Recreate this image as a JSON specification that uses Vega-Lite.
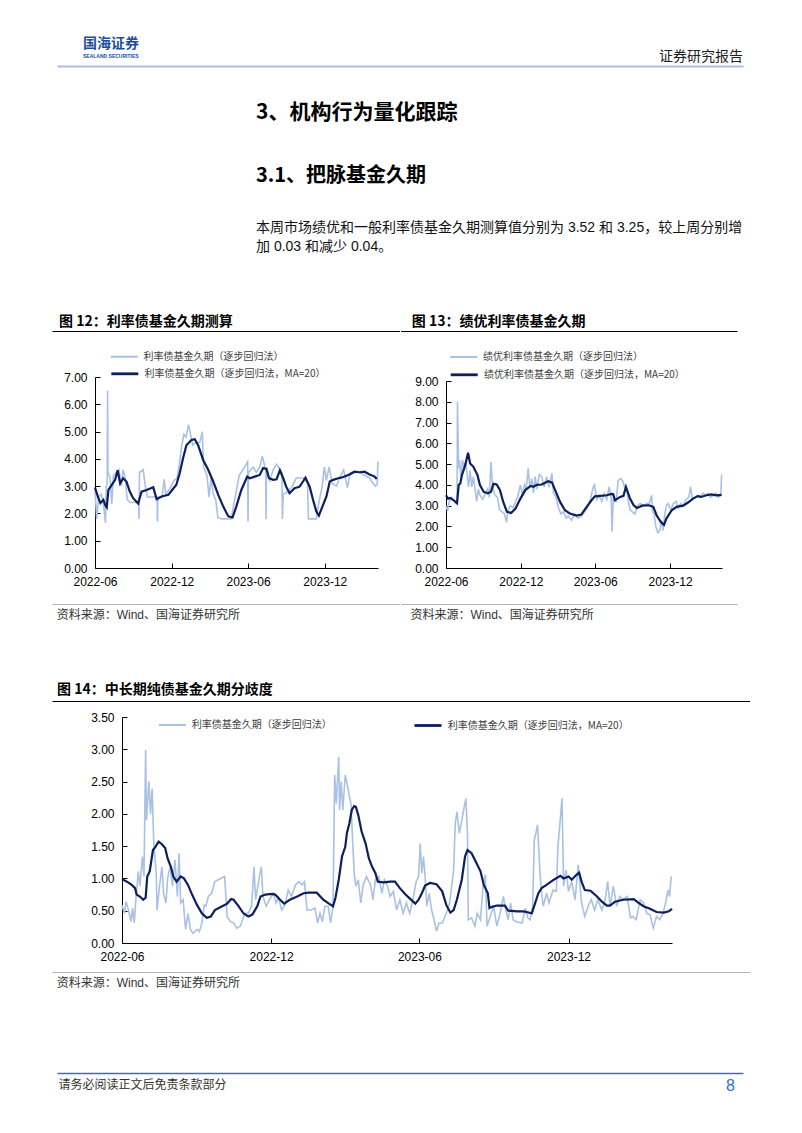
{
"$schema": "https://vega.github.io/schema/vega-lite/v6.json",
"padding": {"left": 52, "top": 0, "right": 0, "bottom": 0},
"background": "white",
"data": {"values": []},
"datasets": {
"c12a": [{"d":"2022-06-01","v":2.9},{"d":"2022-06-05","v":1.8},{"d":"2022-06-10","v":2.6},{"d":"2022-06-16","v":2.7},{"d":"2022-06-21","v":2.4},{"d":"2022-06-26","v":1.65},{"d":"2022-06-28","v":3.0},{"d":"2022-06-30","v":3.1},{"d":"2022-07-01","v":6.5},{"d":"2022-07-02","v":3.5},{"d":"2022-07-07","v":3.3},{"d":"2022-07-11","v":2.35},{"d":"2022-07-15","v":3.4},{"d":"2022-07-22","v":3.5},{"d":"2022-07-28","v":3.6},{"d":"2022-08-03","v":3.0},{"d":"2022-08-07","v":3.6},{"d":"2022-08-12","v":3.3},{"d":"2022-08-17","v":2.5},{"d":"2022-08-25","v":2.4},{"d":"2022-09-05","v":2.4},{"d":"2022-09-13","v":2.4},{"d":"2022-09-14","v":1.8},{"d":"2022-09-15","v":3.5},{"d":"2022-09-24","v":3.6},{"d":"2022-09-29","v":3.0},{"d":"2022-10-04","v":2.6},{"d":"2022-10-15","v":2.6},{"d":"2022-10-27","v":2.6},{"d":"2022-10-28","v":1.7},{"d":"2022-10-29","v":2.6},{"d":"2022-11-08","v":2.6},{"d":"2022-11-13","v":3.25},{"d":"2022-11-17","v":2.7},{"d":"2022-11-26","v":2.9},{"d":"2022-12-06","v":3.2},{"d":"2022-12-14","v":3.3},{"d":"2022-12-19","v":3.8},{"d":"2022-12-25","v":4.5},{"d":"2022-12-30","v":4.9},{"d":"2023-01-04","v":4.8},{"d":"2023-01-10","v":5.25},{"d":"2023-01-15","v":4.9},{"d":"2023-01-20","v":4.5},{"d":"2023-01-28","v":4.6},{"d":"2023-02-06","v":4.6},{"d":"2023-02-12","v":5.0},{"d":"2023-02-15","v":3.7},{"d":"2023-02-23","v":3.4},{"d":"2023-02-28","v":2.6},{"d":"2023-03-05","v":3.3},{"d":"2023-03-10","v":2.7},{"d":"2023-03-16","v":2.5},{"d":"2023-03-21","v":1.85},{"d":"2023-03-30","v":1.8},{"d":"2023-04-10","v":1.8},{"d":"2023-04-22","v":1.8},{"d":"2023-04-30","v":2.5},{"d":"2023-05-11","v":3.4},{"d":"2023-05-20","v":3.6},{"d":"2023-05-31","v":3.9},{"d":"2023-06-01","v":1.7},{"d":"2023-06-02","v":3.5},{"d":"2023-06-13","v":3.7},{"d":"2023-06-21","v":3.5},{"d":"2023-06-29","v":3.7},{"d":"2023-07-05","v":4.1},{"d":"2023-07-13","v":3.6},{"d":"2023-07-14","v":1.8},{"d":"2023-07-15","v":3.7},{"d":"2023-07-23","v":3.2},{"d":"2023-07-31","v":3.6},{"d":"2023-08-08","v":3.8},{"d":"2023-08-21","v":3.5},{"d":"2023-08-22","v":1.8},{"d":"2023-08-24","v":2.7},{"d":"2023-09-04","v":2.8},{"d":"2023-09-15","v":3.0},{"d":"2023-09-24","v":3.3},{"d":"2023-10-04","v":3.3},{"d":"2023-10-12","v":3.3},{"d":"2023-10-21","v":3.1},{"d":"2023-10-23","v":1.8},{"d":"2023-11-01","v":1.8},{"d":"2023-11-11","v":1.8},{"d":"2023-11-17","v":2.4},{"d":"2023-11-25","v":3.0},{"d":"2023-11-30","v":3.7},{"d":"2023-12-05","v":3.2},{"d":"2023-12-11","v":3.7},{"d":"2023-12-19","v":3.1},{"d":"2023-12-29","v":3.0},{"d":"2024-01-05","v":3.3},{"d":"2024-01-15","v":3.6},{"d":"2024-01-24","v":2.95},{"d":"2024-01-31","v":3.5},{"d":"2024-02-10","v":3.5},{"d":"2024-02-22","v":3.5},{"d":"2024-03-05","v":3.4},{"d":"2024-03-17","v":3.3},{"d":"2024-03-25","v":3.1},{"d":"2024-03-31","v":3.0},{"d":"2024-04-04","v":3.05},{"d":"2024-04-06","v":3.9}],
"c12m": [{"d":"2022-06-01","v":2.95},{"d":"2022-06-09","v":2.56},{"d":"2022-06-14","v":2.38},{"d":"2022-06-21","v":2.5},{"d":"2022-06-26","v":2.28},{"d":"2022-06-29","v":2.22},{"d":"2022-07-03","v":2.86},{"d":"2022-07-11","v":3.05},{"d":"2022-07-19","v":3.23},{"d":"2022-07-25","v":3.58},{"d":"2022-07-31","v":3.1},{"d":"2022-08-07","v":3.29},{"d":"2022-08-15","v":3.17},{"d":"2022-08-23","v":2.8},{"d":"2022-08-31","v":2.56},{"d":"2022-09-12","v":2.36},{"d":"2022-09-20","v":2.8},{"d":"2022-10-02","v":2.86},{"d":"2022-10-18","v":2.96},{"d":"2022-10-26","v":2.52},{"d":"2022-11-07","v":2.62},{"d":"2022-11-23","v":2.68},{"d":"2022-12-02","v":2.86},{"d":"2022-12-12","v":3.05},{"d":"2022-12-20","v":3.47},{"d":"2022-12-28","v":4.02},{"d":"2023-01-05","v":4.5},{"d":"2023-01-17","v":4.69},{"d":"2023-01-25","v":4.72},{"d":"2023-02-02","v":4.5},{"d":"2023-02-14","v":3.96},{"d":"2023-02-26","v":3.6},{"d":"2023-03-10","v":3.17},{"d":"2023-03-22","v":2.68},{"d":"2023-04-03","v":2.25},{"d":"2023-04-15","v":1.89},{"d":"2023-04-25","v":1.85},{"d":"2023-05-04","v":2.25},{"d":"2023-05-16","v":2.86},{"d":"2023-05-30","v":3.35},{"d":"2023-06-05","v":3.29},{"d":"2023-06-17","v":3.35},{"d":"2023-06-29","v":3.41},{"d":"2023-07-07","v":3.66},{"d":"2023-07-15","v":3.63},{"d":"2023-07-21","v":3.29},{"d":"2023-07-31","v":3.23},{"d":"2023-08-08","v":3.25},{"d":"2023-08-16","v":3.58},{"d":"2023-08-24","v":3.29},{"d":"2023-08-31","v":2.98},{"d":"2023-09-08","v":2.74},{"d":"2023-09-20","v":2.92},{"d":"2023-10-02","v":2.98},{"d":"2023-10-10","v":3.17},{"d":"2023-10-16","v":3.31},{"d":"2023-10-26","v":2.98},{"d":"2023-11-03","v":2.5},{"d":"2023-11-11","v":2.07},{"d":"2023-11-17","v":1.92},{"d":"2023-11-27","v":2.31},{"d":"2023-12-05","v":2.62},{"d":"2023-12-13","v":3.17},{"d":"2023-12-21","v":3.23},{"d":"2024-01-02","v":3.29},{"d":"2024-01-09","v":3.31},{"d":"2024-01-17","v":3.35},{"d":"2024-01-29","v":3.43},{"d":"2024-02-10","v":3.53},{"d":"2024-02-22","v":3.51},{"d":"2024-03-05","v":3.53},{"d":"2024-03-17","v":3.43},{"d":"2024-03-29","v":3.35},{"d":"2024-04-03","v":3.26}],
"c13a": [{"d":"2022-06-01","v":3.0},{"d":"2022-06-05","v":2.75},{"d":"2022-06-10","v":3.3},{"d":"2022-06-15","v":3.4},{"d":"2022-06-21","v":3.2},{"d":"2022-06-26","v":3.1},{"d":"2022-06-28","v":3.1},{"d":"2022-06-29","v":8.0},{"d":"2022-07-02","v":4.8},{"d":"2022-07-04","v":5.2},{"d":"2022-07-08","v":4.2},{"d":"2022-07-11","v":5.2},{"d":"2022-07-15","v":4.9},{"d":"2022-07-19","v":5.1},{"d":"2022-07-22","v":4.6},{"d":"2022-07-26","v":3.9},{"d":"2022-07-30","v":4.7},{"d":"2022-08-03","v":3.9},{"d":"2022-08-07","v":4.4},{"d":"2022-08-11","v":3.8},{"d":"2022-08-15","v":3.2},{"d":"2022-08-19","v":3.8},{"d":"2022-08-23","v":3.5},{"d":"2022-08-30","v":3.3},{"d":"2022-09-05","v":3.6},{"d":"2022-09-11","v":3.8},{"d":"2022-09-15","v":3.4},{"d":"2022-09-19","v":5.1},{"d":"2022-09-23","v":3.9},{"d":"2022-09-29","v":3.5},{"d":"2022-10-05","v":3.4},{"d":"2022-10-10","v":2.8},{"d":"2022-10-16","v":2.7},{"d":"2022-10-22","v":2.6},{"d":"2022-10-27","v":2.2},{"d":"2022-10-30","v":2.7},{"d":"2022-11-05","v":3.0},{"d":"2022-11-12","v":2.9},{"d":"2022-11-18","v":3.2},{"d":"2022-11-23","v":3.4},{"d":"2022-11-30","v":4.0},{"d":"2022-12-05","v":3.5},{"d":"2022-12-10","v":4.0},{"d":"2022-12-14","v":3.8},{"d":"2022-12-19","v":4.8},{"d":"2022-12-23","v":3.9},{"d":"2022-12-28","v":4.3},{"d":"2023-01-01","v":3.6},{"d":"2023-01-05","v":4.4},{"d":"2023-01-09","v":3.8},{"d":"2023-01-15","v":4.5},{"d":"2023-01-21","v":4.4},{"d":"2023-01-27","v":3.9},{"d":"2023-02-02","v":4.4},{"d":"2023-02-08","v":3.9},{"d":"2023-02-15","v":4.55},{"d":"2023-02-19","v":3.6},{"d":"2023-02-25","v":3.4},{"d":"2023-03-03","v":2.9},{"d":"2023-03-09","v":2.6},{"d":"2023-03-15","v":2.7},{"d":"2023-03-22","v":2.4},{"d":"2023-03-27","v":2.5},{"d":"2023-04-04","v":2.3},{"d":"2023-04-12","v":2.6},{"d":"2023-04-20","v":2.4},{"d":"2023-04-28","v":2.5},{"d":"2023-05-06","v":2.7},{"d":"2023-05-15","v":3.0},{"d":"2023-05-20","v":3.3},{"d":"2023-05-27","v":3.9},{"d":"2023-05-30","v":4.0},{"d":"2023-06-05","v":3.3},{"d":"2023-06-10","v":3.5},{"d":"2023-06-17","v":3.2},{"d":"2023-06-23","v":3.6},{"d":"2023-06-29","v":3.3},{"d":"2023-07-05","v":3.9},{"d":"2023-07-10","v":3.4},{"d":"2023-07-12","v":1.75},{"d":"2023-07-15","v":3.3},{"d":"2023-07-22","v":3.2},{"d":"2023-07-27","v":4.2},{"d":"2023-08-02","v":4.3},{"d":"2023-08-07","v":4.2},{"d":"2023-08-13","v":3.8},{"d":"2023-08-17","v":3.8},{"d":"2023-08-21","v":3.2},{"d":"2023-08-25","v":2.8},{"d":"2023-08-31","v":2.7},{"d":"2023-09-06","v":2.6},{"d":"2023-09-12","v":3.0},{"d":"2023-09-19","v":3.1},{"d":"2023-09-27","v":3.0},{"d":"2023-10-05","v":3.1},{"d":"2023-10-11","v":3.1},{"d":"2023-10-17","v":3.5},{"d":"2023-10-19","v":2.7},{"d":"2023-10-23","v":2.6},{"d":"2023-10-27","v":2.0},{"d":"2023-11-01","v":1.7},{"d":"2023-11-06","v":1.8},{"d":"2023-11-10","v":2.3},{"d":"2023-11-14","v":1.8},{"d":"2023-11-18","v":2.6},{"d":"2023-11-22","v":3.0},{"d":"2023-11-26","v":3.1},{"d":"2023-12-03","v":2.8},{"d":"2023-12-09","v":3.1},{"d":"2023-12-16","v":3.2},{"d":"2023-12-21","v":2.9},{"d":"2023-12-27","v":3.1},{"d":"2024-01-02","v":3.0},{"d":"2024-01-09","v":3.3},{"d":"2024-01-16","v":3.4},{"d":"2024-01-20","v":3.9},{"d":"2024-01-25","v":3.3},{"d":"2024-01-31","v":3.4},{"d":"2024-02-06","v":3.5},{"d":"2024-02-12","v":3.4},{"d":"2024-02-20","v":3.6},{"d":"2024-02-27","v":3.5},{"d":"2024-03-03","v":3.6},{"d":"2024-03-09","v":3.4},{"d":"2024-03-16","v":3.5},{"d":"2024-03-22","v":3.6},{"d":"2024-03-28","v":3.4},{"d":"2024-04-03","v":3.5},{"d":"2024-04-05","v":4.5}],
"c13m": [{"d":"2022-06-01","v":3.5},{"d":"2022-06-06","v":3.34},{"d":"2022-06-11","v":3.37},{"d":"2022-06-20","v":3.26},{"d":"2022-06-28","v":3.12},{"d":"2022-07-02","v":3.99},{"d":"2022-07-06","v":4.07},{"d":"2022-07-10","v":4.47},{"d":"2022-07-18","v":4.95},{"d":"2022-07-25","v":5.55},{"d":"2022-07-30","v":5.03},{"d":"2022-08-07","v":4.87},{"d":"2022-08-17","v":4.47},{"d":"2022-08-23","v":3.99},{"d":"2022-09-01","v":3.67},{"d":"2022-09-11","v":3.59},{"d":"2022-09-19","v":3.67},{"d":"2022-09-25","v":4.05},{"d":"2022-10-03","v":4.02},{"d":"2022-10-11","v":3.75},{"d":"2022-10-19","v":3.18},{"d":"2022-10-28","v":2.7},{"d":"2022-11-07","v":2.65},{"d":"2022-11-18","v":2.86},{"d":"2022-11-30","v":3.34},{"d":"2022-12-12","v":3.75},{"d":"2022-12-25","v":3.95},{"d":"2023-01-01","v":3.91},{"d":"2023-01-09","v":4.0},{"d":"2023-01-21","v":4.02},{"d":"2023-02-06","v":4.18},{"d":"2023-02-15","v":4.12},{"d":"2023-02-23","v":3.75},{"d":"2023-03-07","v":3.18},{"d":"2023-03-19","v":2.78},{"d":"2023-03-31","v":2.62},{"d":"2023-04-16","v":2.52},{"d":"2023-04-28","v":2.57},{"d":"2023-05-11","v":2.94},{"d":"2023-05-23","v":3.26},{"d":"2023-05-31","v":3.45},{"d":"2023-06-13","v":3.47},{"d":"2023-06-29","v":3.5},{"d":"2023-07-11","v":3.57},{"d":"2023-07-15","v":3.55},{"d":"2023-07-19","v":3.26},{"d":"2023-08-01","v":3.42},{"d":"2023-08-09","v":3.47},{"d":"2023-08-15","v":3.9},{"d":"2023-08-25","v":3.34},{"d":"2023-09-03","v":3.02},{"d":"2023-09-11","v":2.89},{"d":"2023-09-24","v":3.0},{"d":"2023-10-10","v":3.02},{"d":"2023-10-21","v":2.94},{"d":"2023-10-29","v":2.54},{"d":"2023-11-08","v":2.22},{"d":"2023-11-16","v":2.08},{"d":"2023-11-22","v":2.38},{"d":"2023-12-05","v":2.78},{"d":"2023-12-17","v":2.94},{"d":"2024-01-02","v":3.0},{"d":"2024-01-14","v":3.15},{"d":"2024-01-26","v":3.34},{"d":"2024-02-07","v":3.46},{"d":"2024-02-15","v":3.42},{"d":"2024-02-28","v":3.5},{"d":"2024-03-11","v":3.54},{"d":"2024-03-23","v":3.5},{"d":"2024-04-05","v":3.52}],
"c14a": [{"d":"2022-06-01","v":0.59},{"d":"2022-06-04","v":0.46},{"d":"2022-06-06","v":0.64},{"d":"2022-06-09","v":0.51},{"d":"2022-06-12","v":0.33},{"d":"2022-06-14","v":0.54},{"d":"2022-06-16","v":0.31},{"d":"2022-06-18","v":0.67},{"d":"2022-06-21","v":1.11},{"d":"2022-06-23","v":0.88},{"d":"2022-06-26","v":1.34},{"d":"2022-06-28","v":1.03},{"d":"2022-06-30","v":2.99},{"d":"2022-07-01","v":1.9},{"d":"2022-07-04","v":2.5},{"d":"2022-07-06","v":2.0},{"d":"2022-07-08","v":2.39},{"d":"2022-07-10","v":1.54},{"d":"2022-07-13","v":1.08},{"d":"2022-07-14","v":0.51},{"d":"2022-07-17","v":0.88},{"d":"2022-07-20","v":1.18},{"d":"2022-07-22","v":0.77},{"d":"2022-07-25","v":0.62},{"d":"2022-07-27","v":1.0},{"d":"2022-07-30","v":1.18},{"d":"2022-08-02","v":0.88},{"d":"2022-08-05","v":1.29},{"d":"2022-08-08","v":0.72},{"d":"2022-08-10","v":1.39},{"d":"2022-08-12","v":0.62},{"d":"2022-08-15","v":0.67},{"d":"2022-08-18","v":0.21},{"d":"2022-08-21","v":0.46},{"d":"2022-08-24","v":0.21},{"d":"2022-08-27","v":0.15},{"d":"2022-09-01","v":0.21},{"d":"2022-09-04","v":0.18},{"d":"2022-09-07","v":0.31},{"d":"2022-09-10","v":0.59},{"d":"2022-09-12","v":0.57},{"d":"2022-09-15","v":0.72},{"d":"2022-09-19","v":0.77},{"d":"2022-09-23","v":0.95},{"d":"2022-09-30","v":1.0},{"d":"2022-10-05","v":1.03},{"d":"2022-10-08","v":0.41},{"d":"2022-10-12","v":0.33},{"d":"2022-10-16","v":0.31},{"d":"2022-10-20","v":0.23},{"d":"2022-10-24","v":0.26},{"d":"2022-10-27","v":0.36},{"d":"2022-10-30","v":0.46},{"d":"2022-11-03","v":0.46},{"d":"2022-11-07","v":0.57},{"d":"2022-11-10","v":1.18},{"d":"2022-11-12","v":0.67},{"d":"2022-11-16","v":0.98},{"d":"2022-11-19","v":1.18},{"d":"2022-11-21","v":0.72},{"d":"2022-11-25","v":0.57},{"d":"2022-11-29","v":0.67},{"d":"2022-12-04","v":0.77},{"d":"2022-12-07","v":0.62},{"d":"2022-12-10","v":0.7},{"d":"2022-12-14","v":0.51},{"d":"2022-12-18","v":0.59},{"d":"2022-12-22","v":0.82},{"d":"2022-12-26","v":0.72},{"d":"2022-12-31","v":0.9},{"d":"2023-01-04","v":0.95},{"d":"2023-01-08","v":0.9},{"d":"2023-01-11","v":0.95},{"d":"2023-01-14","v":0.51},{"d":"2023-01-19","v":0.51},{"d":"2023-01-24","v":0.54},{"d":"2023-01-27","v":0.31},{"d":"2023-01-30","v":0.46},{"d":"2023-02-02","v":0.33},{"d":"2023-02-05","v":0.57},{"d":"2023-02-09","v":0.57},{"d":"2023-02-12","v":0.31},{"d":"2023-02-15","v":0.57},{"d":"2023-02-17","v":2.6},{"d":"2023-02-19","v":2.16},{"d":"2023-02-21","v":2.65},{"d":"2023-02-22","v":2.88},{"d":"2023-02-23","v":2.06},{"d":"2023-02-25","v":2.5},{"d":"2023-02-27","v":2.06},{"d":"2023-03-02","v":2.6},{"d":"2023-03-05","v":2.42},{"d":"2023-03-07","v":2.27},{"d":"2023-03-09","v":2.16},{"d":"2023-03-11","v":1.6},{"d":"2023-03-13","v":1.08},{"d":"2023-03-15","v":0.88},{"d":"2023-03-18","v":0.98},{"d":"2023-03-21","v":0.62},{"d":"2023-03-24","v":0.9},{"d":"2023-03-28","v":1.03},{"d":"2023-04-02","v":0.9},{"d":"2023-04-05","v":0.67},{"d":"2023-04-08","v":0.98},{"d":"2023-04-12","v":1.03},{"d":"2023-04-16","v":0.77},{"d":"2023-04-19","v":0.98},{"d":"2023-04-23","v":0.88},{"d":"2023-04-26","v":0.72},{"d":"2023-04-30","v":0.8},{"d":"2023-05-04","v":0.51},{"d":"2023-05-08","v":0.67},{"d":"2023-05-12","v":0.46},{"d":"2023-05-16","v":0.62},{"d":"2023-05-20","v":0.46},{"d":"2023-05-24","v":0.67},{"d":"2023-05-28","v":0.95},{"d":"2023-05-31","v":1.03},{"d":"2023-06-02","v":1.54},{"d":"2023-06-04","v":1.08},{"d":"2023-06-06","v":1.34},{"d":"2023-06-08","v":1.03},{"d":"2023-06-10","v":0.57},{"d":"2023-06-13","v":0.77},{"d":"2023-06-16","v":0.51},{"d":"2023-06-19","v":0.36},{"d":"2023-06-22","v":0.18},{"d":"2023-06-25","v":0.31},{"d":"2023-06-29","v":0.31},{"d":"2023-07-04","v":0.46},{"d":"2023-07-08","v":0.62},{"d":"2023-07-13","v":1.13},{"d":"2023-07-15","v":1.85},{"d":"2023-07-17","v":2.03},{"d":"2023-07-20","v":1.7},{"d":"2023-07-23","v":1.9},{"d":"2023-07-26","v":2.11},{"d":"2023-07-28","v":2.24},{"d":"2023-07-30","v":1.7},{"d":"2023-07-31","v":0.36},{"d":"2023-08-04","v":0.39},{"d":"2023-08-08","v":0.26},{"d":"2023-08-11","v":0.46},{"d":"2023-08-15","v":0.36},{"d":"2023-08-18","v":0.88},{"d":"2023-08-21","v":1.06},{"d":"2023-08-23","v":0.26},{"d":"2023-08-27","v":0.41},{"d":"2023-08-31","v":0.57},{"d":"2023-09-04","v":0.26},{"d":"2023-09-08","v":0.46},{"d":"2023-09-12","v":0.72},{"d":"2023-09-15","v":0.51},{"d":"2023-09-18","v":0.36},{"d":"2023-09-21","v":0.62},{"d":"2023-09-24","v":0.36},{"d":"2023-09-28","v":0.33},{"d":"2023-10-05","v":0.31},{"d":"2023-10-09","v":0.54},{"d":"2023-10-12","v":0.39},{"d":"2023-10-15","v":0.36},{"d":"2023-10-18","v":0.57},{"d":"2023-10-20","v":1.6},{"d":"2023-10-22","v":1.7},{"d":"2023-10-24","v":1.83},{"d":"2023-10-27","v":1.08},{"d":"2023-10-29","v":0.77},{"d":"2023-10-31","v":0.57},{"d":"2023-11-04","v":0.77},{"d":"2023-11-07","v":0.62},{"d":"2023-11-12","v":0.82},{"d":"2023-11-16","v":0.8},{"d":"2023-11-18","v":1.49},{"d":"2023-11-21","v":1.93},{"d":"2023-11-23","v":2.24},{"d":"2023-11-25","v":0.88},{"d":"2023-11-28","v":1.13},{"d":"2023-12-01","v":0.8},{"d":"2023-12-05","v":0.95},{"d":"2023-12-09","v":0.67},{"d":"2023-12-13","v":1.21},{"d":"2023-12-17","v":0.62},{"d":"2023-12-21","v":0.41},{"d":"2023-12-25","v":0.57},{"d":"2023-12-29","v":0.67},{"d":"2024-01-02","v":0.51},{"d":"2024-01-06","v":0.67},{"d":"2024-01-11","v":0.51},{"d":"2024-01-15","v":0.67},{"d":"2024-01-18","v":0.95},{"d":"2024-01-21","v":0.57},{"d":"2024-01-25","v":0.88},{"d":"2024-01-29","v":0.57},{"d":"2024-02-02","v":0.72},{"d":"2024-02-06","v":0.67},{"d":"2024-02-11","v":0.72},{"d":"2024-02-15","v":0.39},{"d":"2024-02-18","v":0.41},{"d":"2024-02-22","v":0.36},{"d":"2024-02-27","v":0.67},{"d":"2024-03-02","v":0.62},{"d":"2024-03-06","v":0.46},{"d":"2024-03-10","v":0.44},{"d":"2024-03-14","v":0.23},{"d":"2024-03-18","v":0.41},{"d":"2024-03-22","v":0.36},{"d":"2024-03-26","v":0.46},{"d":"2024-03-30","v":0.67},{"d":"2024-04-01","v":0.82},{"d":"2024-04-03","v":0.72},{"d":"2024-04-05","v":1.03}],
"c14m": [{"d":"2022-06-01","v":0.99},{"d":"2022-06-07","v":0.95},{"d":"2022-06-13","v":0.9},{"d":"2022-06-17","v":0.85},{"d":"2022-06-19","v":0.75},{"d":"2022-06-23","v":0.72},{"d":"2022-06-27","v":0.67},{"d":"2022-06-30","v":0.7},{"d":"2022-07-02","v":1.03},{"d":"2022-07-05","v":1.11},{"d":"2022-07-09","v":1.44},{"d":"2022-07-12","v":1.49},{"d":"2022-07-16","v":1.57},{"d":"2022-07-20","v":1.53},{"d":"2022-07-24","v":1.47},{"d":"2022-07-27","v":1.31},{"d":"2022-07-31","v":1.18},{"d":"2022-08-03","v":1.03},{"d":"2022-08-07","v":0.95},{"d":"2022-08-12","v":1.03},{"d":"2022-08-16","v":1.0},{"d":"2022-08-21","v":0.9},{"d":"2022-08-26","v":0.75},{"d":"2022-09-01","v":0.59},{"d":"2022-09-07","v":0.46},{"d":"2022-09-13","v":0.39},{"d":"2022-09-18","v":0.41},{"d":"2022-09-23","v":0.51},{"d":"2022-10-02","v":0.57},{"d":"2022-10-08","v":0.61},{"d":"2022-10-13","v":0.68},{"d":"2022-10-16","v":0.67},{"d":"2022-10-22","v":0.57},{"d":"2022-10-28","v":0.46},{"d":"2022-11-03","v":0.41},{"d":"2022-11-08","v":0.44},{"d":"2022-11-14","v":0.57},{"d":"2022-11-18","v":0.72},{"d":"2022-11-24","v":0.75},{"d":"2022-12-02","v":0.76},{"d":"2022-12-06","v":0.75},{"d":"2022-12-12","v":0.67},{"d":"2022-12-17","v":0.61},{"d":"2022-12-24","v":0.67},{"d":"2023-01-02","v":0.72},{"d":"2023-01-10","v":0.77},{"d":"2023-01-16","v":0.78},{"d":"2023-01-26","v":0.78},{"d":"2023-02-03","v":0.67},{"d":"2023-02-10","v":0.61},{"d":"2023-02-15","v":0.57},{"d":"2023-02-18","v":0.7},{"d":"2023-02-22","v":0.98},{"d":"2023-02-26","v":1.34},{"d":"2023-03-02","v":1.49},{"d":"2023-03-04","v":1.7},{"d":"2023-03-07","v":1.85},{"d":"2023-03-10","v":2.06},{"d":"2023-03-13","v":2.12},{"d":"2023-03-15","v":2.11},{"d":"2023-03-18","v":1.98},{"d":"2023-03-22","v":1.73},{"d":"2023-03-27","v":1.54},{"d":"2023-03-31","v":1.31},{"d":"2023-04-04","v":1.18},{"d":"2023-04-08","v":1.08},{"d":"2023-04-11","v":0.95},{"d":"2023-04-18","v":0.94},{"d":"2023-04-26","v":0.95},{"d":"2023-05-02","v":0.95},{"d":"2023-05-08","v":0.85},{"d":"2023-05-15","v":0.75},{"d":"2023-05-21","v":0.68},{"d":"2023-05-27","v":0.61},{"d":"2023-05-31","v":0.67},{"d":"2023-06-04","v":0.77},{"d":"2023-06-08","v":0.89},{"d":"2023-06-14","v":0.93},{"d":"2023-06-22","v":0.91},{"d":"2023-06-29","v":0.8},{"d":"2023-07-04","v":0.59},{"d":"2023-07-09","v":0.47},{"d":"2023-07-13","v":0.51},{"d":"2023-07-17","v":0.67},{"d":"2023-07-23","v":0.98},{"d":"2023-07-27","v":1.34},{"d":"2023-07-30","v":1.44},{"d":"2023-08-04","v":1.39},{"d":"2023-08-08","v":1.29},{"d":"2023-08-15","v":1.11},{"d":"2023-08-19","v":0.9},{"d":"2023-08-24","v":0.77},{"d":"2023-08-26","v":0.54},{"d":"2023-08-29","v":0.56},{"d":"2023-09-04","v":0.58},{"d":"2023-09-14","v":0.58},{"d":"2023-09-18","v":0.5},{"d":"2023-09-29","v":0.49},{"d":"2023-10-07","v":0.49},{"d":"2023-10-17","v":0.46},{"d":"2023-10-19","v":0.54},{"d":"2023-10-25","v":0.77},{"d":"2023-10-29","v":0.85},{"d":"2023-11-04","v":0.9},{"d":"2023-11-13","v":0.98},{"d":"2023-11-21","v":1.04},{"d":"2023-11-25","v":1.0},{"d":"2023-12-01","v":1.03},{"d":"2023-12-05","v":0.98},{"d":"2023-12-11","v":1.06},{"d":"2023-12-14","v":1.09},{"d":"2023-12-17","v":0.95},{"d":"2023-12-21","v":0.82},{"d":"2023-12-28","v":0.81},{"d":"2024-01-05","v":0.72},{"d":"2024-01-11","v":0.64},{"d":"2024-01-17","v":0.58},{"d":"2024-01-21","v":0.58},{"d":"2024-01-27","v":0.64},{"d":"2024-02-06","v":0.67},{"d":"2024-02-19","v":0.68},{"d":"2024-02-25","v":0.62},{"d":"2024-03-02","v":0.57},{"d":"2024-03-10","v":0.53},{"d":"2024-03-18","v":0.48},{"d":"2024-03-27","v":0.47},{"d":"2024-04-02","v":0.49},{"d":"2024-04-06","v":0.53}]
},
"columns": 2,
"spacing": 0,
"bounds": "flush",
"align": "each",
"resolve": {"scale": {"x": "independent", "y": "independent", "color": "independent"}, "axis": {"x": "independent", "y": "independent"}, "legend": {"color": "independent"}},
"concat": [
{"width":348,"height":1,"mark":"point","title":{"text":"国海证券","subtitle":"SEALAND SECURITIES","offset":36,"dx":31,"fontSize":14,"fontWeight":"bold","color":"#1d4f9e","subtitleFont":"Liberation Sans","subtitleFontSize":5,"subtitleFontWeight":"bold","subtitleColor":"#1d4f9e","subtitlePadding":3}},
{"width":1,"height":1,"mark":"point","title":{"text":"证券研究报告","offset":49.4,"dx":343,"align":"right","fontSize":14,"color":"#222222"}},

{"width":1,"height":1,"mark":"point","title":{"text":"3、机构行为量化跟踪","offset":100.2,"dx":204,"fontSize":21,"fontWeight":"bold"}},
{"width":1,"height":1,"mark":"point","title":{"text":"3.1、把脉基金久期","offset":164,"dx":-144,"fontSize":20,"fontWeight":"bold"}},

{"width":1,"height":1,"mark":"point","title":{"text":["本周市场绩优和一般利率债基金久期测算值分别为 3.52 和 3.25，较上周分别增","加 0.03 和减少 0.04。"],"offset":218.4,"dx":204,"fontSize":14,"lineHeight":19,"font":"Liberation Sans, Noto Sans CJK SC","color":"#111111"}},
{"width":1,"height":1,"mark":"point","title":{"text":"图 12：利率债基金久期测算","offset":312.4,"dx":-341,"fontSize":14,"fontWeight":"bold"}},

{"width":1,"height":1,"mark":"point","title":{"text":"资料来源：Wind、国海证券研究所","offset":606.3,"dx":4.7,"fontSize":12,"font":"Liberation Sans, Noto Sans CJK SC","color":"#333333"}},
{"width":1,"height":1,"mark":"point","title":{"text":"图 13：绩优利率债基金久期","offset":311.4,"dx":11.7,"fontSize":14,"fontWeight":"bold"}},

{"width":1,"height":1,"mark":"point","title":{"text":"图 14：中长期纯债基金久期分歧度","offset":678,"dx":5,"fontSize":14,"fontWeight":"bold"}},
{"width":1,"height":1,"mark":"point","title":{"text":"资料来源：Wind、国海证券研究所","offset":605.3,"dx":10.5,"fontSize":12,"font":"Liberation Sans, Noto Sans CJK SC","color":"#333333"}},

{"width":1,"height":1,"mark":"point","title":{"text":"资料来源：Wind、国海证券研究所","offset":971.6,"dx":4.7,"fontSize":12,"font":"Liberation Sans, Noto Sans CJK SC","color":"#333333"}},
{"width":1,"height":1,"mark":"point","title":{"text":"请务必阅读正文后免责条款部分","offset":1073.6,"dx":-341.6,"fontSize":12,"color":"#333333"}},

{"width":1,"height":60,"mark":"point","title":{"text":"8","offset":1011.8,"dx":674,"fontSize":16,"font":"Liberation Sans","color":"#2f6fcf"}},
{"width":1,"height":1,"mark":"point"},

{"width":348,"height":265,"mark":"point","encoding":{"x":{"datum":0,"type":"quantitative","scale":{"domain":[0,1],"range":[5,691]},"axis":{"orient":"top","title":null,"ticks":false,"labels":false,"grid":false,"domainColor":"#a9bfe8","domainWidth":2}}}},
{"width":1,"height":1,"mark":"point"},

{"width":348,"height":46,"mark":"point","encoding":{"x":{"datum":0,"type":"quantitative","scale":{"domain":[0,1],"range":[0,347.5]},"axis":{"orient":"top","title":null,"ticks":false,"labels":false,"grid":false,"domainColor":"#000000","domainWidth":1}}}},
{"width":337,"height":46,"mark":"point","encoding":{"x":{"datum":0,"type":"quantitative","scale":{"domain":[0,1],"range":[0.5,337]},"axis":{"orient":"top","title":null,"ticks":false,"labels":false,"grid":false,"domainColor":"#000000","domainWidth":1}}}},

{"width":348,"height":191,
 "resolve":{"scale":{"color":"independent"},"legend":{"color":"independent"}},
 "layer":[
  {"data":{"name":"c12a"},"mark":{"type":"line","strokeWidth":1.6},"encoding":{
    "x":{"field":"d","type":"temporal","scale":{"type":"utc","domain":[{"year":2022,"month":6,"date":1,"utc":true},{"year":2024,"month":4,"date":6,"utc":true}],"range":[43,326]},"axis":{"orient":"bottom","title":null,"format":"%Y-%m","labelOverlap":false,"labelFlush":false,"values":[{"year":2022,"month":6,"date":1,"utc":true},{"year":2022,"month":12,"date":1,"utc":true},{"year":2023,"month":6,"date":1,"utc":true},{"year":2023,"month":12,"date":1,"utc":true}]}},
    "y":{"field":"v","type":"quantitative","scale":{"domain":[0,7],"nice":false,"range":[191,0]},"axis":{"orient":"left","offset":-43,"title":null,"format":".2f","tickCount":8,"labelOverlap":false,"values":[0,1,2,3,4,5,6,7]}},
    "color":{"datum":"利率债基金久期（逐步回归法）","scale":{"range":["#a9c1e4"]},"legend":{"title":null,"orient":"none","legendX":66.3,"legendY":-26.3,"symbolType":"M-2.7,0H2.7","symbolStrokeWidth":2}}}},
  {"data":{"name":"c12m"},"mark":{"type":"line","strokeWidth":2.2},"encoding":{
    "x":{"field":"d","type":"temporal","scale":{"type":"utc","domain":[{"year":2022,"month":6,"date":1,"utc":true},{"year":2024,"month":4,"date":6,"utc":true}],"range":[43,326]},"axis":{"orient":"bottom","title":null,"format":"%Y-%m","labelOverlap":false,"labelFlush":false,"values":[{"year":2022,"month":6,"date":1,"utc":true},{"year":2022,"month":12,"date":1,"utc":true},{"year":2023,"month":6,"date":1,"utc":true},{"year":2023,"month":12,"date":1,"utc":true}]}},
    "y":{"field":"v","type":"quantitative","scale":{"domain":[0,7],"nice":false,"range":[191,0]},"axis":{"orient":"left","offset":-43,"title":null,"format":".2f","tickCount":8,"labelOverlap":false,"values":[0,1,2,3,4,5,6,7]}},
    "color":{"datum":"利率债基金久期（逐步回归法，MA=20）","scale":{"range":["#0d1f5c"]},"legend":{"title":null,"orient":"none","legendX":66.3,"legendY":-9.7,"symbolType":"M-2.7,0H2.7","symbolStrokeWidth":2.8}}}}
 ]},
{"width":337,"height":191,
 "resolve":{"scale":{"color":"independent"},"legend":{"color":"independent"}},
 "layer":[
  {"data":{"name":"c13a"},"mark":{"type":"line","strokeWidth":1.6},"encoding":{
    "x":{"field":"d","type":"temporal","scale":{"type":"utc","domain":[{"year":2022,"month":6,"date":1,"utc":true},{"year":2024,"month":4,"date":6,"utc":true}],"range":[46,322]},"axis":{"orient":"bottom","title":null,"format":"%Y-%m","labelOverlap":false,"labelFlush":false,"values":[{"year":2022,"month":6,"date":1,"utc":true},{"year":2022,"month":12,"date":1,"utc":true},{"year":2023,"month":6,"date":1,"utc":true},{"year":2023,"month":12,"date":1,"utc":true}]}},
    "y":{"field":"v","type":"quantitative","scale":{"domain":[0,9],"nice":false,"range":[191,4]},"axis":{"orient":"left","offset":-46,"title":null,"format":".2f","tickCount":10,"labelOverlap":false,"values":[0,1,2,3,4,5,6,7,8,9]}},
    "color":{"datum":"绩优利率债基金久期（逐步回归法）","scale":{"range":["#a9c1e4"]},"legend":{"title":null,"orient":"none","legendX":57.7,"legendY":-26,"symbolType":"M-2.7,0H2.7","symbolStrokeWidth":2}}}},
  {"data":{"name":"c13m"},"mark":{"type":"line","strokeWidth":2.2},"encoding":{
    "x":{"field":"d","type":"temporal","scale":{"type":"utc","domain":[{"year":2022,"month":6,"date":1,"utc":true},{"year":2024,"month":4,"date":6,"utc":true}],"range":[46,322]},"axis":{"orient":"bottom","title":null,"format":"%Y-%m","labelOverlap":false,"labelFlush":false,"values":[{"year":2022,"month":6,"date":1,"utc":true},{"year":2022,"month":12,"date":1,"utc":true},{"year":2023,"month":6,"date":1,"utc":true},{"year":2023,"month":12,"date":1,"utc":true}]}},
    "y":{"field":"v","type":"quantitative","scale":{"domain":[0,9],"nice":false,"range":[191,4]},"axis":{"orient":"left","offset":-46,"title":null,"format":".2f","tickCount":10,"labelOverlap":false,"values":[0,1,2,3,4,5,6,7,8,9]}},
    "color":{"datum":"绩优利率债基金久期（逐步回归法，MA=20）","scale":{"range":["#0d1f5c"]},"legend":{"title":null,"orient":"none","legendX":57.7,"legendY":-8.7,"symbolType":"M-2.7,0H2.7","symbolStrokeWidth":2.8}}}}
 ]},

{"width":348,"height":36,"mark":"point","encoding":{"x":{"datum":0,"type":"quantitative","scale":{"domain":[0,1],"range":[0,347.5]},"axis":{"orient":"bottom","title":null,"ticks":false,"labels":false,"grid":false,"domainColor":"#b4b4b4","domainWidth":1}}}},
{"width":337,"height":36,"mark":"point","encoding":{"x":{"datum":0,"type":"quantitative","scale":{"domain":[0,1],"range":[0.5,337]},"axis":{"orient":"bottom","title":null,"ticks":false,"labels":false,"grid":false,"domainColor":"#b4b4b4","domainWidth":1}}}},

{"width":348,"height":97,"mark":"point","encoding":{"x":{"datum":0,"type":"quantitative","scale":{"domain":[0,1],"range":[0,698]},"axis":{"orient":"bottom","title":null,"ticks":false,"labels":false,"grid":false,"domainColor":"#000000","domainWidth":1}}}},
{"width":1,"height":1,"mark":"point"},

{"width":1,"height":16,"mark":"point"},
{"width":1,"height":1,"mark":"point"},

{"width":348,"height":226,
 "resolve":{"scale":{"color":"independent"},"legend":{"color":"independent"}},
 "layer":[
  {"data":{"name":"c14a"},"mark":{"type":"line","strokeWidth":1.6},"encoding":{
    "x":{"field":"d","type":"temporal","scale":{"type":"utc","domain":[{"year":2022,"month":6,"date":1,"utc":true},{"year":2024,"month":4,"date":6,"utc":true}],"range":[70,620]},"axis":{"orient":"bottom","title":null,"format":"%Y-%m","labelOverlap":false,"labelFlush":false,"values":[{"year":2022,"month":6,"date":1,"utc":true},{"year":2022,"month":12,"date":1,"utc":true},{"year":2023,"month":6,"date":1,"utc":true},{"year":2023,"month":12,"date":1,"utc":true}]}},
    "y":{"field":"v","type":"quantitative","scale":{"domain":[0,3.5],"nice":false,"range":[226,0]},"axis":{"orient":"left","offset":-70,"title":null,"format":".2f","tickCount":8,"labelOverlap":false,"values":[0,0.5,1,1.5,2,2.5,3,3.5]}},
    "color":{"datum":"利率债基金久期（逐步回归法）","scale":{"range":["#a9c1e4"]},"legend":{"title":null,"orient":"none","legendX":114.5,"legendY":2,"symbolType":"M-2.7,0H2.7","symbolStrokeWidth":2}}}},
  {"data":{"name":"c14m"},"mark":{"type":"line","strokeWidth":2.2},"encoding":{
    "x":{"field":"d","type":"temporal","scale":{"type":"utc","domain":[{"year":2022,"month":6,"date":1,"utc":true},{"year":2024,"month":4,"date":6,"utc":true}],"range":[70,620]},"axis":{"orient":"bottom","title":null,"format":"%Y-%m","labelOverlap":false,"labelFlush":false,"values":[{"year":2022,"month":6,"date":1,"utc":true},{"year":2022,"month":12,"date":1,"utc":true},{"year":2023,"month":6,"date":1,"utc":true},{"year":2023,"month":12,"date":1,"utc":true}]}},
    "y":{"field":"v","type":"quantitative","scale":{"domain":[0,3.5],"nice":false,"range":[226,0]},"axis":{"orient":"left","offset":-70,"title":null,"format":".2f","tickCount":8,"labelOverlap":false,"values":[0,0.5,1,1.5,2,2.5,3,3.5]}},
    "color":{"datum":"利率债基金久期（逐步回归法，MA=20）","scale":{"range":["#0d1f5c"]},"legend":{"title":null,"orient":"none","legendX":369.5,"legendY":2,"symbolType":"M-2.7,0H2.7","symbolStrokeWidth":2.8}}}}
 ]},
{"width":1,"height":1,"mark":"point"},

{"width":348,"height":29,"mark":"point","encoding":{"x":{"datum":0,"type":"quantitative","scale":{"domain":[0,1],"range":[0,698]},"axis":{"orient":"bottom","title":null,"ticks":false,"labels":false,"grid":false,"domainColor":"#b4b4b4","domainWidth":1}}}},
{"width":1,"height":1,"mark":"point"},

{"width":348,"height":101,"mark":"point","encoding":{"x":{"datum":0,"type":"quantitative","scale":{"domain":[0,1],"range":[5,691]},"axis":{"orient":"bottom","title":null,"ticks":false,"labels":false,"grid":false,"domainColor":"#2f6fcf","domainWidth":1.5}}}},
{"width":1,"height":1,"mark":"point"}
],
"config": {
 "font": "Liberation Sans",
 "view": {"stroke": null},
 "title": {"orient": "bottom", "anchor": "start", "frame": "group", "baseline": "top", "offset": 0, "limit": 3000, "font": "Noto Sans CJK SC", "color": "#000000", "fontWeight": "normal", "subtitlePadding": 0},
 "axis": {"grid": false, "domainColor": "#000000", "tickColor": "#000000", "tickSize": -5, "labelPadding": 13, "labelFont": "Liberation Sans", "labelFontSize": 12, "labelColor": "#000000", "labelFlush": false, "labelOverlap": false, "domainWidth": 1},
 "legend": {"symbolSize": 100, "labelFont": "Noto Sans CJK SC", "labelFontSize": 10, "labelColor": "#404040", "labelOffset": 13.3, "labelLimit": 600, "padding": 0}
}
}
